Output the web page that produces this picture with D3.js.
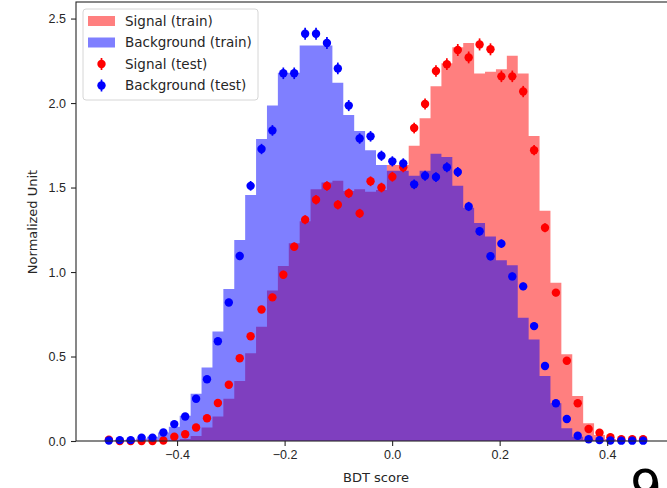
<!DOCTYPE html>
<html>
<head>
<meta charset="utf-8">
<script src="https://cdn.jsdelivr.net/npm/d3@7"></script>
<style>
  body { margin: 0; background: #fff; }
  svg { display: block; font-family: "DejaVu Sans", sans-serif; }
  .tick text { font-size: 12.5px; fill: #262626; }
</style>
</head>
<body>
<div id="chart"></div>
<script>
// BDT score histograms, 50 bins from -0.537 to 0.477
var binStart = -0.537;
var binWidth = 0.02028;

var signalTrain = [0, 0, 0, 0, 0, 0.002, 0.005, 0.012, 0.03, 0.08,
    0.145, 0.25, 0.355, 0.52, 0.676, 0.89, 1.035, 1.17, 1.30, 1.49,
    1.53, 1.54, 1.48, 1.49, 1.475, 1.485, 1.633, 1.633, 1.747, 1.91,
    2.10, 2.235, 2.33, 2.355, 2.175, 2.185, 2.20, 2.28, 2.175, 1.805,
    1.363, 0.937, 0.513, 0.266, 0.105, 0.035, 0.012, 0.004, 0.002, 0.001];

var backgroundTrain = [0.002, 0.004, 0.008, 0.015, 0.025, 0.05, 0.085, 0.15, 0.28, 0.435,
    0.648, 0.90, 1.19, 1.456, 1.787, 1.985, 2.18, 2.18, 2.34, 2.34,
    2.34, 2.12, 1.93, 1.835, 1.72, 1.633, 1.60, 1.60, 1.57, 1.60,
    1.70, 1.68, 1.51, 1.38, 1.29, 1.21, 1.07, 1.04, 0.73, 0.60,
    0.385, 0.223, 0.075, 0.025, 0.008, 0.003, 0.001, 0, 0, 0];

var signalTest = [0.008, 0, 0, 0, 0, 0.003, 0.025, 0.04, 0.08, 0.135,
    0.225, 0.333, 0.49, 0.62, 0.778, 0.85, 0.984, 1.15, 1.31, 1.428,
    1.509, 1.398, 1.466, 1.347, 1.537, 1.50, 1.564, 1.62, 1.852, 1.994,
    2.19, 2.23, 2.314, 2.27, 2.347, 2.318, 2.158, 2.158, 2.068, 1.721,
    1.262, 0.878, 0.475, 0.223, 0.071, 0.049, 0.022, 0.01, 0.01, 0.01];

var backgroundTest = [0.003, 0.005, 0.005, 0.02, 0.02, 0.05, 0.10, 0.145, 0.25, 0.365,
    0.59, 0.82, 1.095, 1.51, 1.728, 1.838, 2.176, 2.176, 2.41, 2.41,
    2.355, 2.205, 1.985, 1.79, 1.803, 1.688, 1.655, 1.643, 1.519, 1.57,
    1.562, 1.62, 1.592, 1.388, 1.241, 1.093, 1.168, 0.974, 0.915, 0.68,
    0.444, 0.223, 0.13, 0.031, 0.01, 0.005, 0.003, 0.002, 0.002, 0.002];

var xTicks = [-0.4, -0.2, 0.0, 0.2, 0.4];
var yTicks = [0.0, 0.5, 1.0, 1.5, 2.0, 2.5];
var legendLabels = ["Signal (train)", "Background (train)", "Signal (test)", "Background (test)"];

// poisson errors on the test points, sum of weights per unit
var normN = 1850;

var svgWidth = 667;
var svgHeight = 488;

var svg = d3.select("#chart").append("svg")
    .attr("width", svgWidth)
    .attr("height", svgHeight);

var xScale = d3.scaleLinear()
    .domain([-0.588, 0.528])
    .range([76, 676]);

var yScale = d3.scaleLinear()
    .domain([0, 2.598])
    .range([441, 2]);

function stepPoints(values) {
    var pts = values.map((v, i) => ({ x: binStart + i * binWidth, y: v }));
    pts.push({ x: binStart + values.length * binWidth, y: values[values.length - 1] });
    return pts;
}

var area = d3.area()
    .curve(d3.curveStepAfter)
    .x(d => xScale(d.x))
    .y0(yScale(0))
    .y1(d => yScale(d.y));

var plot = svg.append("g");

plot.append("path")
    .datum(stepPoints(signalTrain))
    .attr("d", area)
    .attr("fill", "#ff0000")
    .attr("fill-opacity", 0.5);

plot.append("path")
    .datum(stepPoints(backgroundTrain))
    .attr("d", area)
    .attr("fill", "#0000ff")
    .attr("fill-opacity", 0.5);

function drawTest(values, color) {
    var g = plot.append("g");
    var pts = values.map((v, i) => ({
        x: binStart + (i + 0.5) * binWidth,
        y: v,
        e: Math.sqrt(v / normN)
    }));
    g.selectAll("line")
        .data(pts)
        .enter()
        .append("line")
        .attr("x1", d => xScale(d.x))
        .attr("x2", d => xScale(d.x))
        .attr("y1", d => yScale(d.y - d.e))
        .attr("y2", d => yScale(d.y + d.e))
        .attr("stroke", color)
        .attr("stroke-width", 1.7);
    g.selectAll("circle")
        .data(pts)
        .enter()
        .append("circle")
        .attr("cx", d => xScale(d.x))
        .attr("cy", d => yScale(d.y))
        .attr("r", 4.2)
        .attr("fill", color);
}

drawTest(signalTest, "#ff0000");
drawTest(backgroundTest, "#0000ff");

// axes
var xAxis = svg.append("g")
    .attr("transform", `translate(0, ${yScale(0)})`)
    .call(d3.axisBottom(xScale)
        .tickValues(xTicks)
        .tickSize(5)
        .tickPadding(4)
        .tickFormat(d => d3.format(".1f")(d).replace("-", "\u2212")));

var yAxis = svg.append("g")
    .attr("transform", `translate(76, 0)`)
    .call(d3.axisLeft(yScale)
        .tickValues(yTicks)
        .tickSize(5)
        .tickPadding(5)
        .tickFormat(d3.format(".1f")));

[xAxis, yAxis].forEach(function(ax) {
    ax.select(".domain").remove();
    ax.selectAll(".tick line").attr("stroke", "#262626").attr("stroke-width", 1.1);
});

// frame
svg.append("rect")
    .attr("x", 76)
    .attr("y", 2)
    .attr("width", 600)
    .attr("height", 439)
    .attr("fill", "none")
    .attr("stroke", "#262626")
    .attr("stroke-width", 1.1);

svg.append("text")
    .attr("x", 376)
    .attr("y", 482)
    .attr("text-anchor", "middle")
    .attr("font-size", 13)
    .attr("fill", "#262626")
    .text("BDT score");

svg.append("text")
    .attr("transform", "translate(37, 222) rotate(-90)")
    .attr("text-anchor", "middle")
    .attr("font-size", 13)
    .attr("fill", "#262626")
    .text("Normalized Unit");

// legend
var legend = svg.append("g");

legend.append("rect")
    .attr("x", 83)
    .attr("y", 9)
    .attr("width", 175)
    .attr("height", 91)
    .attr("rx", 3)
    .attr("fill", "#fff")
    .attr("fill-opacity", 0.8)
    .attr("stroke", "#d6d6d6");

var legendColors = ["#ff0000", "#0000ff", "#ff0000", "#0000ff"];
var rowY = [21, 42.5, 64, 85.5];

legendLabels.forEach(function(label, i) {
    if (i < 2) {
        legend.append("rect")
            .attr("x", 88)
            .attr("y", rowY[i] - 5)
            .attr("width", 27)
            .attr("height", 10)
            .attr("fill", legendColors[i])
            .attr("fill-opacity", 0.5);
    } else {
        legend.append("line")
            .attr("x1", 101.5).attr("x2", 101.5)
            .attr("y1", rowY[i] - 6).attr("y2", rowY[i] + 6)
            .attr("stroke", legendColors[i])
            .attr("stroke-width", 1.7);
        legend.append("circle")
            .attr("cx", 101.5)
            .attr("cy", rowY[i])
            .attr("r", 4.2)
            .attr("fill", legendColors[i]);
    }
    legend.append("text")
        .attr("x", 125)
        .attr("y", rowY[i] + 4.6)
        .attr("font-size", 13.5)
        .attr("fill", "#262626")
        .text(label);
});

// stray glyph from the next figure at the bottom right, cut off as in the source
svg.append("text")
    .attr("x", 630)
    .attr("y", 505)
    .attr("font-size", 50)
    .attr("fill", "#000")
    .text("9");
</script>
</body>
</html>
